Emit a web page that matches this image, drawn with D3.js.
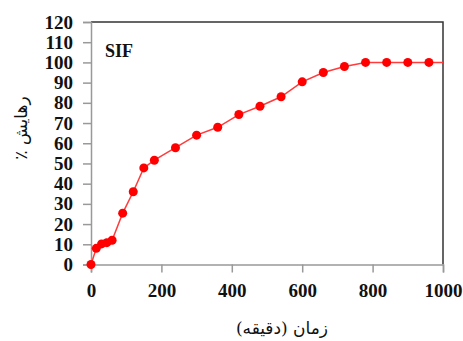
<!DOCTYPE html>
<html>
<head>
<meta charset="utf-8">
<script src="https://cdn.jsdelivr.net/npm/d3@7"></script>
<style>
  body { margin: 0; background: #fff; }
  .tick text { font-family: "Liberation Serif", "Times New Roman", serif; font-weight: bold; fill: #111; }
</style>
</head>
<body>
<div id="chart"></div>
<script>
var width = 463;
var height = 341;

// release data (time in minutes, percent)
var times = [0, 15, 30, 45, 60, 90, 120, 150, 180, 240, 300, 360, 420, 480, 540, 600, 660, 720, 780, 840, 900, 960, 1000];
var release = [0, 8, 10.2, 10.8, 12, 25.4, 36, 47.8, 51.6, 57.8, 64, 67.9, 74.2, 78.3, 83, 90.4, 95, 98, 100, 100, 100, 100, 100];
var markerCount = 22; // last point only continues the line to the edge

var xTicks = [0, 200, 400, 600, 800, 1000];
var yTicks = [0, 10, 20, 30, 40, 50, 60, 70, 80, 90, 100, 110, 120];

var margin = {left: 91, right: 20, top: 22, bottom: 76.5};
var plotW = width - margin.left - margin.right;
var plotH = height - margin.top - margin.bottom;

var svg = d3.select("#chart")
  .append("svg")
  .attr("width", width)
  .attr("height", height);

var g = svg.append("g")
  .attr("transform", "translate(" + margin.left + "," + margin.top + ")");

var x = d3.scaleLinear().domain([0, 1000]).range([0, plotW]);
var y = d3.scaleLinear().domain([0, 120]).range([plotH, 0]);

// frame top + right
g.append("path")
  .attr("d", "M0,0H" + plotW + "V" + plotH)
  .attr("fill", "none")
  .attr("stroke", "#333")
  .attr("stroke-width", 1.5);

var xAxis = g.append("g")
  .attr("transform", "translate(0," + plotH + ")")
  .call(d3.axisBottom(x).tickValues(xTicks).tickFormat(d3.format("d")).tickSize(8).tickPadding(11));

var yAxis = g.append("g")
  .call(d3.axisLeft(y).tickValues(yTicks).tickFormat(d3.format("d")).tickSize(8).tickPadding(10));

[xAxis, yAxis].forEach(function(a) {
  a.select(".domain").attr("stroke", "#999").attr("stroke-width", 1.5);
  a.selectAll(".tick line").attr("stroke", "#999").attr("stroke-width", 1.5);
  a.selectAll(".tick text").attr("font-size", 19);
});

var line = d3.line()
  .x(function(d, i) { return x(times[i]); })
  .y(function(d) { return y(d); });

g.append("path")
  .datum(release)
  .attr("d", line)
  .attr("fill", "none")
  .attr("stroke", "#ff3b3b")
  .attr("stroke-width", 1.5);

g.selectAll("circle")
  .data(release.slice(0, markerCount))
  .enter()
  .append("circle")
  .attr("cx", function(d, i) { return x(times[i]); })
  .attr("cy", function(d) { return y(d); })
  .attr("r", 4.5)
  .attr("fill", "#ff0000");

g.append("text")
  .attr("x", 14)
  .attr("y", 35)
  .attr("font-family", "Liberation Serif, Times New Roman, serif")
  .attr("font-weight", "bold")
  .attr("font-size", 18)
  .attr("fill", "#111")
  .text("SIF");

svg.append("text")
  .attr("x", 282)
  .attr("y", 334)
  .attr("text-anchor", "middle")
  .attr("font-family", "DejaVu Serif, DejaVu Sans, serif")
  .attr("font-size", 17)
  .attr("fill", "#111")
  .text("زمان (دقیقه)");

svg.append("text")
  .attr("transform", "translate(27,128) rotate(-90)")
  .attr("text-anchor", "middle")
  .attr("font-family", "DejaVu Serif, DejaVu Sans, serif")
  .attr("font-size", 17)
  .attr("fill", "#111")
  .text("٪ رهایش");
</script>
</body>
</html>
